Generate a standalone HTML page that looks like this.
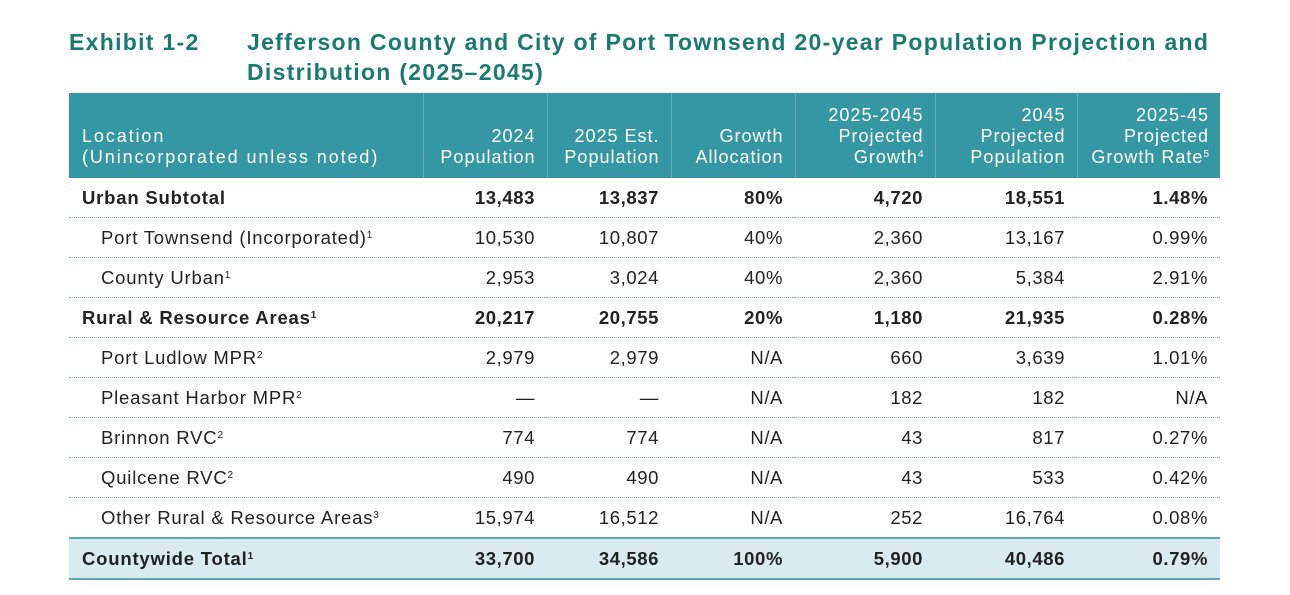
<!DOCTYPE html>
<html><head><meta charset="utf-8"><style>
body{margin:0;width:1290px;height:595px;background:#fff;font-family:"Liberation Sans",sans-serif;overflow:hidden;position:relative}
.t{position:absolute;color:#1b7a70;font-weight:bold;font-size:23px;letter-spacing:1.3px;line-height:30px;white-space:nowrap}
table{position:absolute;left:69px;top:93px;border-collapse:collapse;table-layout:fixed;width:1151px}
th{background:#3597a3;color:#fff;font-weight:normal;font-size:18px;letter-spacing:1px;line-height:21px;text-align:right;padding:0 11px 10px 0;vertical-align:bottom;height:75px;border-left:1px solid #5fb0ba;white-space:nowrap}
th:first-child{text-align:left;padding-left:13px;border-left:none;padding-bottom:10px;letter-spacing:1.9px}
td{height:39px;font-size:18.5px;letter-spacing:0.6px;color:#222;text-align:right;padding:0 12px 0 0;border-bottom:1px dotted #8ab;vertical-align:middle;white-space:nowrap}
td:first-child{text-align:left;padding-left:32px;letter-spacing:0.8px}
tr.b td{font-weight:bold}
tr.b td:first-child{padding-left:13px}
tr.tot td{background:#d9ebef;border-top:2px solid #5fa8b2;border-bottom:2px solid #5fa8b2}
sup{font-size:10px;vertical-align:6px;line-height:0;letter-spacing:0}
</style></head><body>
<div class="t" style="left:69px;top:27px">Exhibit 1-2</div>
<div class="t" style="left:247px;top:27px">Jefferson County and City of Port Townsend 20-year Population Projection and<br>Distribution (2025–2045)</div>
<table>
<colgroup><col style="width:354px"><col style="width:124px"><col style="width:124px"><col style="width:124px"><col style="width:140px"><col style="width:142px"><col style="width:143px"></colgroup>
<tr><th>Location<br>(Unincorporated unless noted)</th><th>2024<br>Population</th><th>2025 Est.<br>Population</th><th>Growth<br>Allocation</th><th>2025-2045<br>Projected<br>Growth<sup>4</sup></th><th>2045<br>Projected<br>Population</th><th>2025-45<br>Projected<br>Growth Rate<sup>5</sup></th></tr>
<tr class="b"><td>Urban Subtotal</td><td>13,483</td><td>13,837</td><td>80%</td><td>4,720</td><td>18,551</td><td>1.48%</td></tr>
<tr><td>Port Townsend (Incorporated)<sup>1</sup></td><td>10,530</td><td>10,807</td><td>40%</td><td>2,360</td><td>13,167</td><td>0.99%</td></tr>
<tr><td>County Urban<sup>1</sup></td><td>2,953</td><td>3,024</td><td>40%</td><td>2,360</td><td>5,384</td><td>2.91%</td></tr>
<tr class="b"><td>Rural &amp; Resource Areas<sup>1</sup></td><td>20,217</td><td>20,755</td><td>20%</td><td>1,180</td><td>21,935</td><td>0.28%</td></tr>
<tr><td>Port Ludlow MPR<sup>2</sup></td><td>2,979</td><td>2,979</td><td>N/A</td><td>660</td><td>3,639</td><td>1.01%</td></tr>
<tr><td>Pleasant Harbor MPR<sup>2</sup></td><td>—</td><td>—</td><td>N/A</td><td>182</td><td>182</td><td>N/A</td></tr>
<tr><td>Brinnon RVC<sup>2</sup></td><td>774</td><td>774</td><td>N/A</td><td>43</td><td>817</td><td>0.27%</td></tr>
<tr><td>Quilcene RVC<sup>2</sup></td><td>490</td><td>490</td><td>N/A</td><td>43</td><td>533</td><td>0.42%</td></tr>
<tr><td>Other Rural &amp; Resource Areas<sup>3</sup></td><td>15,974</td><td>16,512</td><td>N/A</td><td>252</td><td>16,764</td><td>0.08%</td></tr>
<tr class="b tot"><td>Countywide Total<sup>1</sup></td><td>33,700</td><td>34,586</td><td>100%</td><td>5,900</td><td>40,486</td><td>0.79%</td></tr>
</table>
</body></html>
